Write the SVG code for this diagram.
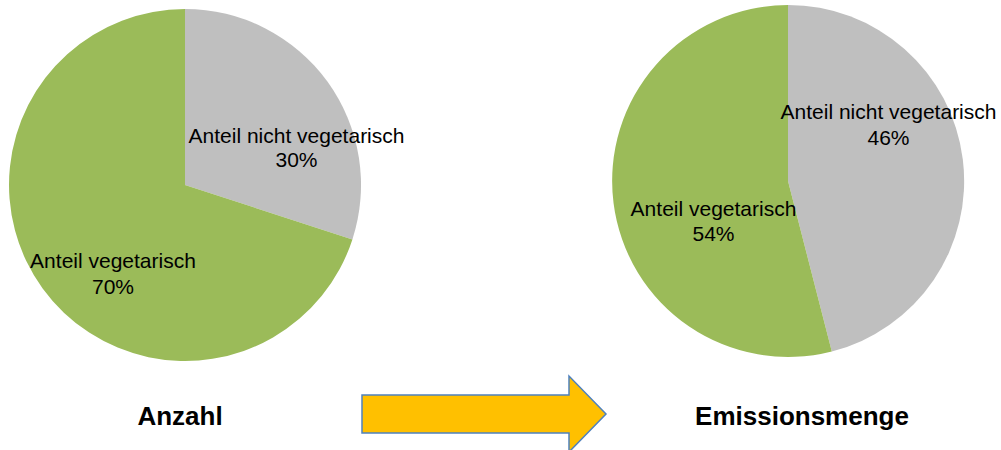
<svg xmlns="http://www.w3.org/2000/svg" width="1001" height="450" viewBox="0 0 1001 450">
<style>
.veg{fill:#9BBB59}
.non{fill:#BFBFBF}
.lbl{font-family:"Liberation Sans",Arial,sans-serif;font-size:21px;fill:#000;text-anchor:middle}
.ttl{font-family:"Liberation Sans",Arial,sans-serif;font-size:26px;font-weight:bold;fill:#000;text-anchor:middle}
</style>
<rect width="1001" height="450" fill="#fff"/>
<g id="pie-anzahl">
<path class="non" d="M185,185 L185,9 A176,176 0 0 1 352.4,239.4 Z"/>
<path class="veg" d="M185,185 L352.4,239.4 A176,176 0 1 1 185,9 Z"/>
<text class="lbl" x="296.5" y="143">Anteil nicht vegetarisch</text>
<text class="lbl" x="296.5" y="167">30%</text>
<text class="lbl" x="113" y="268">Anteil vegetarisch</text>
<text class="lbl" x="113" y="294">70%</text>
</g>
<g id="pie-emission">
<path class="non" d="M788,181 L788,5 A176,176 0 0 1 831.8,351.5 Z"/>
<path class="veg" d="M788,181 L831.8,351.5 A176,176 0 1 1 788,5 Z"/>
<text class="lbl" x="888.5" y="119">Anteil nicht vegetarisch</text>
<text class="lbl" x="888.5" y="145">46%</text>
<text class="lbl" x="713.5" y="216">Anteil vegetarisch</text>
<text class="lbl" x="713.5" y="241">54%</text>
</g>
<g id="label-anzahl"><text class="ttl" x="180" y="425">Anzahl</text></g>
<g id="label-emission"><text class="ttl" x="802" y="425">Emissionsmenge</text></g>
<g id="connectors">
<polygon points="362,395 569,395 569,376 606,414 569,452 569,433 362,433" fill="#FFC000" stroke="#4F81BD" stroke-width="1.5"/>
</g>
</svg>
